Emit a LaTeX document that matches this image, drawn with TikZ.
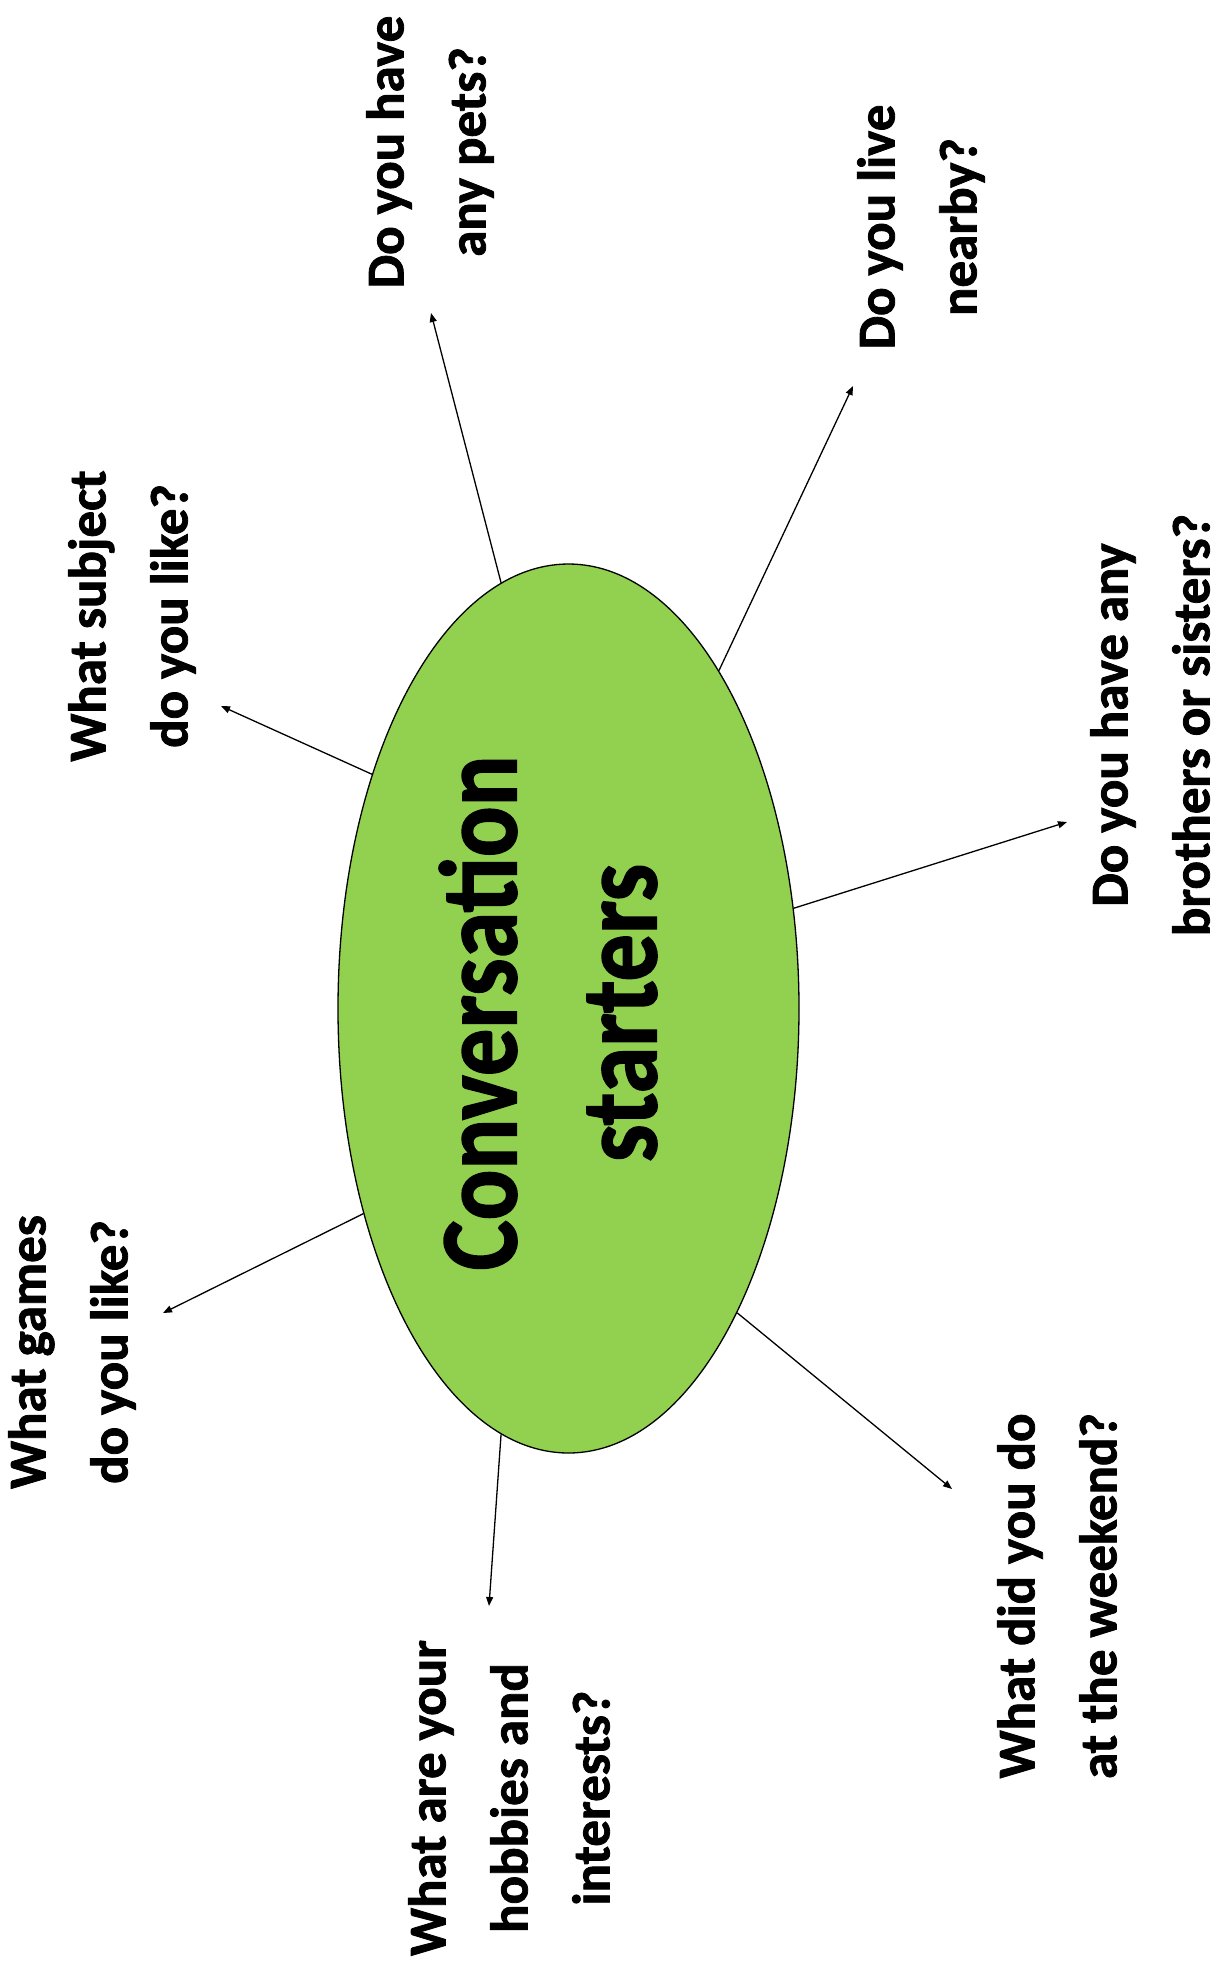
\documentclass[tikz,border=0pt]{standalone}
\usepackage{fontspec}
\setmainfont{Carlito}
\newfontfamily\labfont{Carlito}[BoldFeatures={FakeBold=1.5}]
\usetikzlibrary{shapes.geometric,arrows.meta}
\definecolor{bubble}{HTML}{92D050}
\tikzset{
  q/.style={rotate=90, align=center, font=\labfont\fontsize{53}{82}\selectfont\bfseries, inner sep=0pt},
  link/.style={line width=1.3pt, -{Triangle[length=9pt,width=7pt]}},
}
\begin{document}
\begin{tikzpicture}[x=1pt,y=-1pt]
\useasboundingbox (0,0) rectangle (1223,1966);
\node[draw, ellipse, fill=bubble, line width=1.3pt, minimum width=461pt, minimum height=889pt, inner sep=0pt] (c) at (568.5,1008.5) {};
\node[rotate=90, align=center, inner sep=0pt, font=\labfont\fontsize{110}{140}\selectfont\bfseries] (title) at (548,1013)
  {\scalebox{0.86}[1]{Conversation}\\\scalebox{0.86}[1]{starters}};

\node[q] (pets) at (430,152) {Do you have\\any pets?};
\node[q] (near) at (921,227) {Do you live\\nearby?};
\node[q] (sib) at (1150,725) {Do you have any\\brothers or sisters?};
\node[q] (week) at (1057,1596) {What did you do\\at the weekend?};
\node[q] (hob) at (509,1798) {What are your\\hobbies and\\interests?};
\node[q] (games) at (72,1352) {What games\\do you like?};
\node[q] (subj) at (132,616) {What subject\\do you like?};

\coordinate (tpets) at (431,313);
\coordinate (tnear) at (853,386);
\coordinate (tsib) at (1067,822);
\coordinate (tweek) at (952,1489);
\coordinate (thob) at (489,1606);
\coordinate (tgames) at (163,1313);
\coordinate (tsubj) at (221,706);

\draw[link] (c.99.6) -- (tpets);
\draw[link] (c.66.5) -- (tnear);
\draw[link] (c.24.0) -- (tsib);
\draw[link] (c.-61.9) -- (tweek);
\draw[link] (c.261.7) -- (thob);
\draw[link] (c.225.1) -- (tgames);
\draw[link] (c.130.7) -- (tsubj);
\end{tikzpicture}
\end{document}
